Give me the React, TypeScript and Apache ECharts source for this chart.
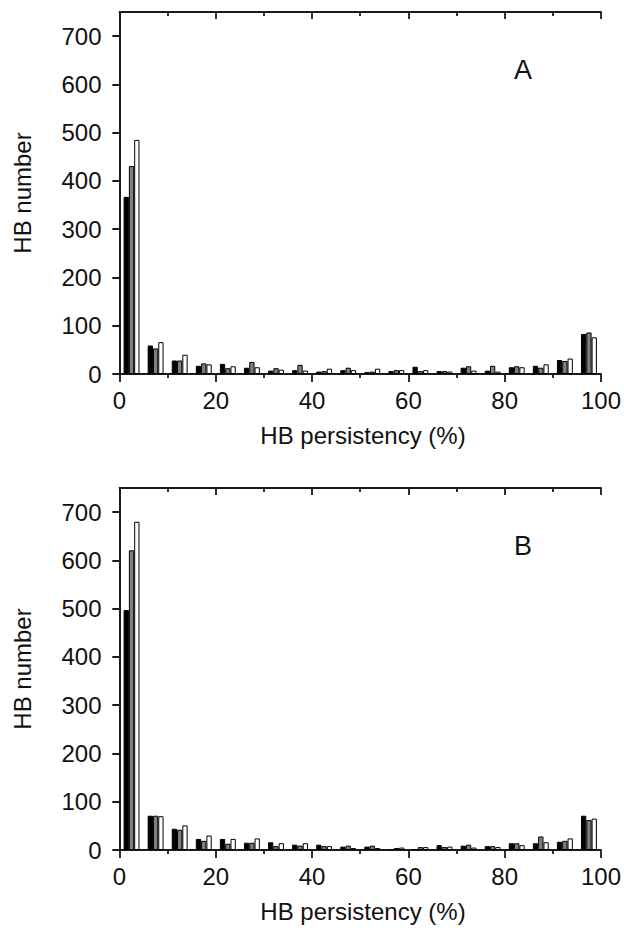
import React, { useEffect, useRef } from "react";
import * as echarts from "echarts";

const bins = ["0-5","5-10","10-15","15-20","20-25","25-30","30-35","35-40","40-45","45-50","50-55","55-60","60-65","65-70","70-75","75-80","80-85","85-90","90-95","95-100"];

const aBlack = [367, 59, 28, 17, 21, 13, 7, 8, 5, 8, 4, 6, 15, 6, 13, 7, 14, 17, 29, 83];
const aGray  = [431, 53, 28, 22, 12, 25, 12, 19, 6, 13, 5, 8, 6, 6, 16, 17, 16, 13, 27, 86];
const aWhite = [485, 66, 40, 20, 16, 14, 9, 7, 11, 8, 11, 8, 8, 5, 7, 5, 14, 20, 32, 76];

const bBlack = [497, 71, 44, 23, 23, 15, 16, 11, 11, 7, 7, 2, 2, 10, 9, 8, 14, 14, 17, 71];
const bGray  = [621, 71, 42, 19, 13, 15, 8, 9, 8, 9, 9, 4, 6, 6, 11, 8, 14, 28, 19, 62];
const bWhite = [680, 70, 51, 30, 23, 24, 14, 14, 8, 4, 4, 5, 6, 7, 5, 6, 10, 16, 24, 65];

const yTicks = [0, 100, 200, 300, 400, 500, 600, 700];
const panelLetters = ["A", "B"];
const xTitle = "HB persistency (%)";
const yTitle = "HB number";

const LINE = "#1a1a1a";
const FONT = "Liberation Sans";

export default function App() {
  const ref = useRef<HTMLDivElement>(null);
  useEffect(() => {
    if (!ref.current) return;
    const chart = echarts.init(ref.current, undefined, { renderer: "svg" });
    const grids = [
      { left: 119.5, top: 12, width: 487.5, height: 362 },
      { left: 119.5, top: 488, width: 487.5, height: 362 },
    ];
    const xAxis: any[] = [];
    const yAxis: any[] = [];
    const series: any[] = [];
    const panels = [
      [aBlack, aGray, aWhite],
      [bBlack, bGray, bWhite],
    ];
    const lineStyle = { color: LINE, width: 1.8 };
    grids.forEach((g, i) => {
      xAxis.push({
        type: "category", gridIndex: i, data: bins, show: false, boundaryGap: true,
      });
      xAxis.push({
        type: "value", gridIndex: i, min: 0, max: 100, interval: 20, position: "bottom",
        axisLine: { show: true, lineStyle },
        axisTick: { show: true, inside: false, length: 8, lineStyle },
        minorTick: { show: true, splitNumber: 2, length: 4, lineStyle },
        axisLabel: { show: true, fontSize: 24, fontFamily: FONT, color: "#111", margin: 14 },
        splitLine: { show: false },
      });
      xAxis.push({
        type: "value", gridIndex: i, min: 0, max: 100, interval: 20, position: "top",
        axisLine: { show: true, lineStyle },
        axisTick: { show: true, inside: true, length: 7, lineStyle },
        minorTick: { show: true, splitNumber: 2, length: 4, lineStyle },
        axisLabel: { show: false },
        splitLine: { show: false },
      });
      yAxis.push({
        type: "value", gridIndex: i, min: 0, max: 750, position: "left",
        axisLine: { show: true, lineStyle },
        axisTick: { show: true, inside: false, length: 7, lineStyle, customValues: yTicks },
        axisLabel: { show: true, fontSize: 24, fontFamily: FONT, color: "#111", margin: 18, customValues: yTicks },
        splitLine: { show: false },
      });
      yAxis.push({
        type: "value", gridIndex: i, min: 0, max: 750, position: "right",
        axisLine: { show: true, lineStyle },
        axisTick: { show: true, inside: true, length: 7, lineStyle, customValues: yTicks },
        axisLabel: { show: false },
        splitLine: { show: false },
      });
      const colors = ["#000000", "#808080", "#ffffff"];
      panels[i].forEach((vals, k) => {
        series.push({
          type: "bar",
          xAxisIndex: i * 3,
          yAxisIndex: i * 2,
          data: vals,
          barWidth: 5.3,
          barGap: "0%",
          itemStyle: { color: colors[k], borderColor: "#000", borderWidth: 1 },
        });
      });
    });
    const graphic: any[] = [];
    grids.forEach((g, i) => {
      const off = i * 476;
      graphic.push({
        type: "text", x: 523, y: 70 + off,
        style: { text: panelLetters[i], fontSize: 27, fontFamily: FONT, fill: "#111", textAlign: "center", textVerticalAlign: "middle" },
      });
      graphic.push({
        type: "text", x: 363, y: 435 + off,
        style: { text: xTitle, fontSize: 24, fontFamily: FONT, fill: "#111", textAlign: "center", textVerticalAlign: "middle" },
      });
      graphic.push({
        type: "text", x: 22, y: 193 + off, rotation: Math.PI / 2,
        style: { text: yTitle, fontSize: 24, fontFamily: FONT, fill: "#111", textAlign: "center", textVerticalAlign: "middle" },
      });
    });
    chart.setOption({
      animation: false,
      backgroundColor: "#ffffff",
      grid: grids,
      xAxis,
      yAxis,
      series,
      graphic,
    });
    return () => chart.dispose();
  }, []);
  return (
    <div
      ref={ref}
      style={{ position: "fixed", left: 0, top: 0, width: 624, height: 931, background: "#fff" }}
    />
  );
}
